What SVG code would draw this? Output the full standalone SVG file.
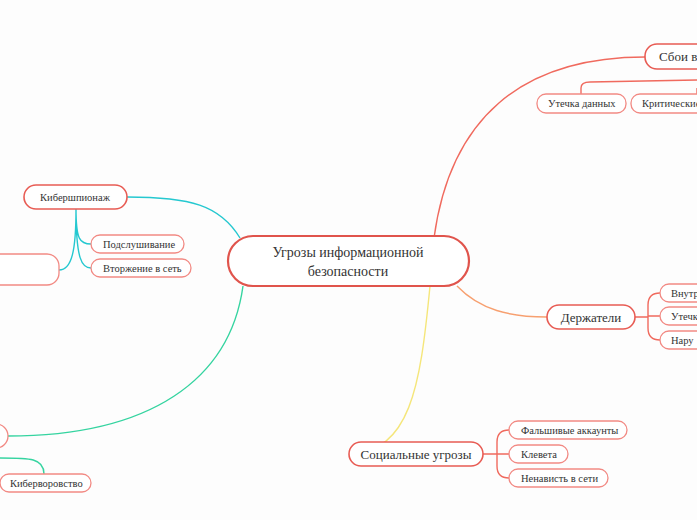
<svg xmlns="http://www.w3.org/2000/svg" width="697" height="520" viewBox="0 0 697 520">
<style>
text{font-family:"Liberation Serif",serif;fill:#333}
.n{fill:#fff;stroke:#e85c54;stroke-width:1.6}
.s{fill:#fff;stroke:#f28a84;stroke-width:1.3}
.c{fill:none;stroke-width:1.4}
.t{font-size:13px}
.u{font-size:10.5px}
</style>
<rect width="697" height="520" fill="#fdfdfd"/>
<g id="connectors">
<path class="c" stroke="#f06a5e" d="M434,238 C450,120 520,57 645,57"/>
<path class="c" stroke="#f06a5e" d="M581,94 V88 Q581,82 590,82 L697,80"/>
<path class="c" stroke="#f06a5e" d="M697,88 V94"/>
<path class="c" stroke="#f7a070" d="M457,286 C480,310 510,317 547,317"/>
<path class="c" stroke="#f06a5e" d="M635,317 H648 M660,293 Q648,293 648,305 V328 Q648,340 660,340 M648,316 H660"/>
<path class="c" stroke="#f5e67a" d="M430,286 C420,390 410,450 349,455"/>
<path class="c" stroke="#f06a5e" d="M483,454 H497 M509,430 Q497,430 497,442 V466 Q497,478 509,478 M497,454 H509"/>
<path class="c" stroke="#25c8d0" d="M240,238 C220,205 190,197 127,197"/>
<path class="c" stroke="#25c8d0" d="M76,209 C76,240 80,244 91,244 M76,209 C76,260 82,268 91,268 M76,209 C76,250 72,270 59,270"/>
<path class="c" stroke="#35d4a0" d="M243,286 C230,380 150,436 8,436"/>
<path class="c" stroke="#35d4a0" d="M0,458 C30,458 44,458 44,474"/>
</g>
<g id="center"><rect x="228" y="236" width="241" height="50" rx="25" fill="#fff" stroke="#e0544c" stroke-width="2.2"/>
<text x="348" y="257" font-size="14" text-anchor="middle">Угрозы информационной</text>
<text x="348" y="276" font-size="14" text-anchor="middle">безопасности</text></g>
<g id="sboi"><rect class="n" x="645" y="44" width="80" height="25" rx="12"/><text class="t" x="659" y="61">Сбои в</text></g>
<g id="utechka"><rect class="s" x="537" y="94" width="89" height="19" rx="9"/><text class="u" x="548" y="107">Утечка данных</text></g>
<g id="krit"><rect class="s" x="631" y="94" width="90" height="19" rx="9"/><text class="u" x="642" y="107">Критические</text></g>
<g id="derzh"><rect class="n" x="547" y="305" width="88" height="24" rx="12"/><text class="t" x="591" y="322" text-anchor="middle">Держатели</text></g>
<g id="d1"><rect class="s" x="660" y="284" width="60" height="18" rx="9"/><text class="u" x="671" y="297">Внутр</text></g>
<g id="d2"><rect class="s" x="660" y="307" width="60" height="18" rx="9"/><text class="u" x="671" y="320">Утечк</text></g>
<g id="d3"><rect class="s" x="660" y="331" width="60" height="18" rx="9"/><text class="u" x="671" y="344">Нару</text></g>
<g id="soc"><rect class="n" x="349" y="442" width="134" height="24" rx="12"/><text class="t" x="416" y="459" text-anchor="middle">Социальные угрозы</text></g>
<g id="s1"><rect class="s" x="509" y="421" width="118" height="18" rx="9"/><text class="u" x="521" y="434">Фальшивые аккаунты</text></g>
<g id="s2"><rect class="s" x="509" y="445" width="59" height="18" rx="9"/><text class="u" x="521" y="458">Клевета</text></g>
<g id="s3"><rect class="s" x="509" y="469" width="99" height="18" rx="9"/><text class="u" x="521" y="482">Ненависть в сети</text></g>
<g id="kibersh"><rect class="n" x="24" y="185" width="103" height="24" rx="12"/><text class="u" x="75" y="201" font-size="11" text-anchor="middle">Кибершпионаж</text></g>
<g id="k1"><rect class="s" x="91" y="235" width="93" height="18" rx="9"/><text class="u" x="103" y="248">Подслушивание</text></g>
<g id="k2"><rect class="s" x="91" y="259" width="100" height="18" rx="9"/><text class="u" x="103" y="272">Вторжение в сеть</text></g>
<g id="left1"><rect class="s" x="-40" y="254" width="99" height="31" rx="12"/></g>
<g id="left2"><rect class="s" x="-40" y="424" width="48" height="24" rx="12"/></g>
<g id="kibervor"><rect class="s" x="0" y="474" width="91" height="18" rx="9"/><text class="u" x="10" y="487">Киберворовство</text></g>
</svg>
